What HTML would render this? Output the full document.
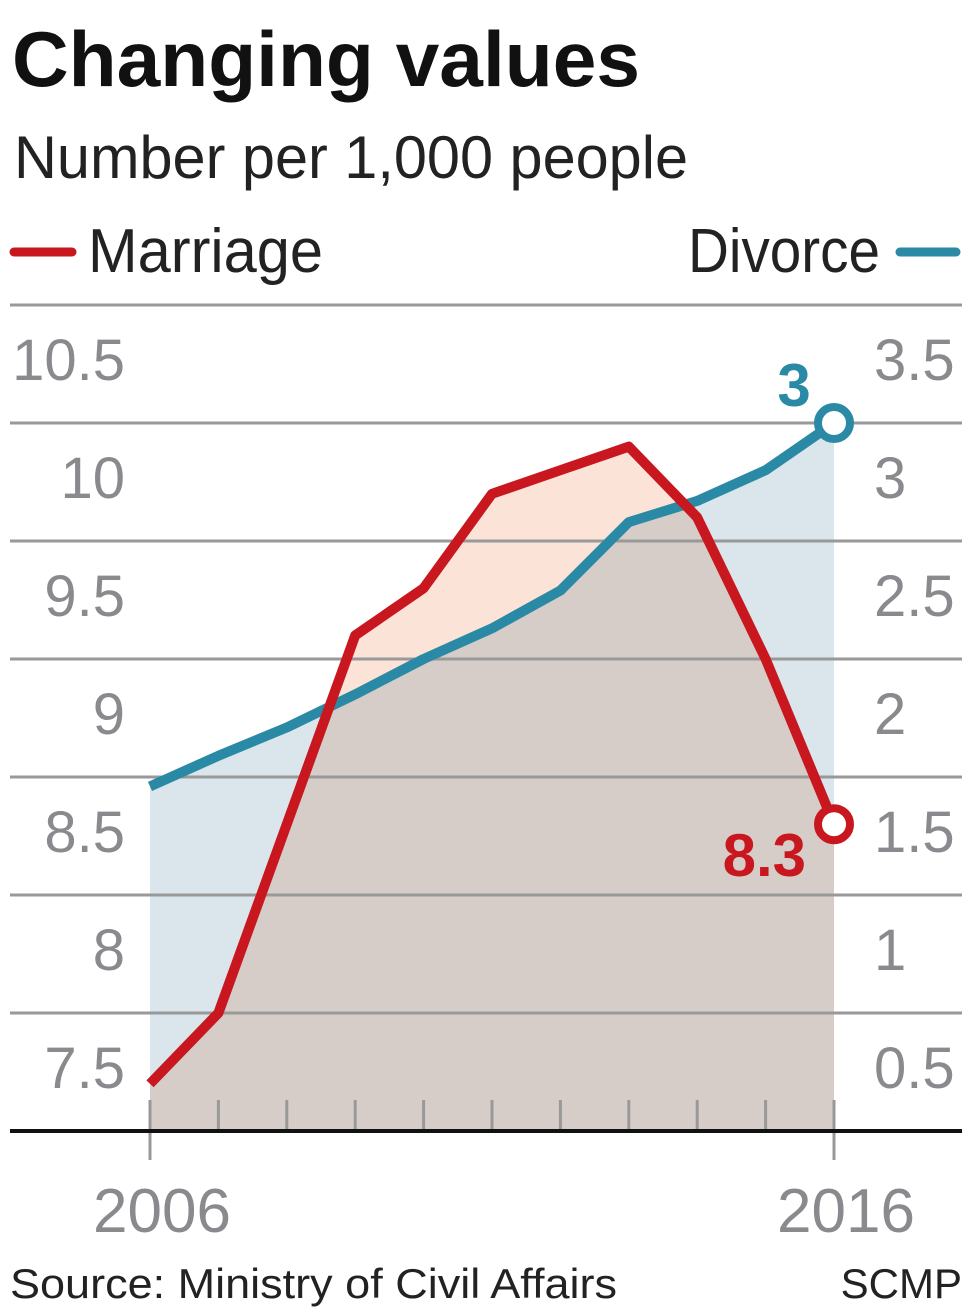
<!DOCTYPE html>
<html><head><meta charset="utf-8"><style>
html,body{margin:0;padding:0;background:#fff;}
svg{display:block;font-family:"Liberation Sans Narrow","Liberation Sans",sans-serif;}
</style></head><body>
<svg id="chart" width="972" height="1315" viewBox="0 0 972 1315" xmlns="http://www.w3.org/2000/svg">
<text x="12" y="86" font-size="78" font-weight="bold" fill="#111" textLength="628" lengthAdjust="spacingAndGlyphs">Changing values</text>
<text x="14" y="178" font-size="60" fill="#222" textLength="674" lengthAdjust="spacingAndGlyphs">Number per 1,000 people</text>
<line x1="14" y1="252" x2="72" y2="252" stroke="#c8171f" stroke-width="9" stroke-linecap="round"/>
<text x="88" y="272" font-size="62" fill="#222" textLength="235" lengthAdjust="spacingAndGlyphs">Marriage</text>
<text x="688" y="272" font-size="62" fill="#222" textLength="192" lengthAdjust="spacingAndGlyphs">Divorce</text>
<line x1="900" y1="252" x2="956" y2="252" stroke="#2a8aa6" stroke-width="9" stroke-linecap="round"/>
<g id="plot"></g>
<text x="10" y="1298" font-size="42" fill="#222" textLength="607" lengthAdjust="spacingAndGlyphs">Source: Ministry of Civil Affairs</text>
<text x="962" y="1298" font-size="42" fill="#222" text-anchor="end">SCMP</text>
</svg>
<script>
const years = [2006,2007,2008,2009,2010,2011,2012,2013,2014,2015,2016];
const marriage = [7.2,7.5,8.3,9.1,9.3,9.7,9.8,9.9,9.6,9.0,8.3];
const divorce = [1.46,1.59,1.71,1.85,2.0,2.13,2.29,2.58,2.67,2.8,3.0];
const leftTicks = [10.5,10,9.5,9,8.5,8,7.5];
const rightTicks = [3.5,3,2.5,2,1.5,1,0.5];
const leftLabels = ["10.5","10","9.5","9","8.5","8","7.5"];
const rightLabels = ["3.5","3","2.5","2","1.5","1","0.5"];
const xLabels = ["2006","2016"];

const NS="http://www.w3.org/2000/svg";
const g=document.getElementById('plot');
const x=i=>150+(834-150)*i/(years.length-1);
const yL=v=>1131-(v-7)*236;
const yR=v=>1131-v*236;
function mk(t,a,p){const e=document.createElementNS(NS,t);for(const k in a)e.setAttribute(k,a[k]);(p||g).appendChild(e);return e;}

let dp='M'+x(0)+',1131 '+divorce.map((v,i)=>'L'+x(i)+','+yR(v)).join(' ')+' L'+x(years.length-1)+',1131Z';
let a1=mk('path',{d:dp,fill:'#dae5ec'});


let mp='M'+x(0)+',1131 '+marriage.map((v,i)=>'L'+x(i)+','+yL(v)).join(' ')+' L'+x(years.length-1)+',1131Z';
let a2=mk('path',{d:mp,fill:'#fbe3d8',style:'mix-blend-mode:multiply'});



leftTicks.forEach((v,i)=>{
  const y=yL(v);
  const l=mk('line',{x1:10,x2:962,y1:y,y2:y,stroke:'#999',"stroke-width":3});
  
  
  const t=mk('text',{x:125,y:y+75,"font-size":58,fill:'#8a8a8e',"text-anchor":'end'});t.textContent=leftLabels[i];
  
  
  const t2=mk('text',{x:874,y:yR(rightTicks[i])+75,"font-size":58,fill:'#8a8a8e'});t2.textContent=rightLabels[i];
  
  
});
years.forEach((yr,i)=>{
  const t=mk('line',{x1:x(i),x2:x(i),y1:1100,y2:1131,stroke:'#999',"stroke-width":3});
  
  
});
[0,years.length-1].forEach((i,k)=>{
  const t=mk('line',{x1:x(i),x2:x(i),y1:1131,y2:1160,stroke:'#999',"stroke-width":3});
  
  
  const tx=mk('text',{x:x(i)+12,y:1232,"font-size":62,fill:'#8a8a8e',"text-anchor":'middle'});tx.textContent=xLabels[k];
  
  
});
const base=mk('line',{x1:10,x2:962,y1:1131,y2:1131,stroke:'#111',"stroke-width":4});



const dl=mk('polyline',{points:divorce.map((v,i)=>x(i)+','+yR(v)).join(' '),fill:'none',stroke:'#2a8aa6',"stroke-width":10,"stroke-linejoin":'round'});


const ml=mk('polyline',{points:marriage.map((v,i)=>x(i)+','+yL(v)).join(' '),fill:'none',stroke:'#c8171f',"stroke-width":10,"stroke-linejoin":'round'});


const n=years.length-1;
const dm=mk('circle',{cx:x(n),cy:yR(divorce[n]),r:16,fill:'#fff',stroke:'#2a8aa6',"stroke-width":8});


const mm=mk('circle',{cx:x(n),cy:yL(marriage[n]),r:16,fill:'#fff',stroke:'#c8171f',"stroke-width":8});


const dv=mk('text',{x:x(n)-40,y:yR(divorce[n])-17,"font-size":60,"font-weight":'bold',fill:'#2a8aa6',"text-anchor":'middle'});dv.textContent=String(divorce[n]);


const mv=mk('text',{x:x(n)-28,y:yL(marriage[n])+52,"font-size":60,"font-weight":'bold',fill:'#c8171f',"text-anchor":'end'});mv.textContent=String(marriage[n]);


</script>
</body></html>
